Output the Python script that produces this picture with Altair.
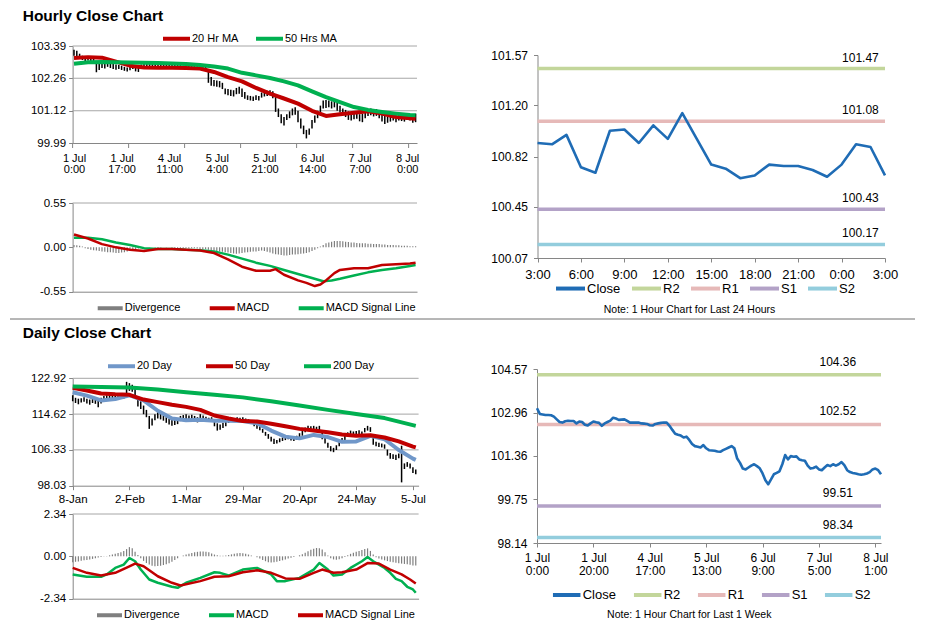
import json
import altair as alt
import pandas as pd

FONT = "Liberation Sans"
W, H = 912, 622
AXIS_GREY = "#868686"
GRID_GREY = "#A6A6A6"
RED = "#C00000"
GREEN = "#00B050"
BLUE_MA = "#7097C9"
DIV_GREY = "#7F7F7F"
CLOSE_BLUE = "#1F6CB5"
LEVEL_COLORS = ["#C3D69B", "#E6B9B8", "#B3A2C7", "#93CDDD"]

TITLES = ["Hourly Close Chart", "Daily Close Chart"]
NOTES = ["Note: 1 Hour Chart for Last 24 Hours", "Note: 1 Hour Chart for Last 1 Week"]

# ---------------- Hourly close chart (top left) ----------------
A_HIGH = [103.26, 103.22, 103.12, 103.05, 103.00, 103.02, 102.98, 102.95, 102.82, 102.78,
          102.80, 102.78, 102.82, 102.80, 102.76, 102.74, 102.72, 102.70, 102.66, 102.64,
          102.66, 102.70, 102.72, 102.70, 102.74, 102.78, 102.80, 102.78, 102.80, 102.82,
          102.80, 102.78, 102.76, 102.78, 102.80, 102.78, 102.76, 102.74, 102.72, 102.70,
          102.68, 102.70, 102.72, 102.70, 102.68, 102.70, 102.68, 102.66, 102.55, 102.30,
          102.20, 102.18, 102.16, 102.10, 101.90, 101.88, 101.86, 101.84, 101.92, 101.96,
          101.90, 101.78, 101.66, 101.64, 101.62, 101.66, 101.64, 101.76, 101.80, 101.82,
          101.84, 101.80, 101.60, 101.20, 101.00, 100.90, 101.00, 101.10, 101.20, 101.24,
          101.12, 100.85, 100.60, 100.45, 100.50, 100.80, 100.95, 101.12, 101.30, 101.48,
          101.50, 101.48, 101.45, 101.50, 101.40, 101.30, 101.20, 101.15, 101.10, 101.05,
          101.08, 101.10, 101.00, 101.02, 101.12, 101.18, 101.20, 101.16, 101.18, 101.12,
          101.02, 100.95, 100.92, 100.96, 100.98, 100.95, 101.00, 100.98, 100.96, 101.02,
          101.00, 100.98, 101.02]
A_LOW = [103.05, 103.02, 102.95, 102.90, 102.86, 102.88, 102.84, 102.80, 102.47, 102.55,
         102.62, 102.60, 102.66, 102.62, 102.58, 102.56, 102.58, 102.55, 102.52, 102.50,
         102.54, 102.58, 102.50, 102.48, 102.60, 102.64, 102.66, 102.64, 102.66, 102.68,
         102.66, 102.64, 102.62, 102.64, 102.66, 102.64, 102.62, 102.60, 102.58, 102.58,
         102.56, 102.58, 102.60, 102.58, 102.56, 102.58, 102.56, 102.52, 102.10, 102.00,
         101.98, 101.96, 101.94, 101.88, 101.70, 101.66, 101.64, 101.62, 101.70, 101.72,
         101.60, 101.54, 101.50, 101.48, 101.46, 101.50, 101.48, 101.58, 101.62, 101.64,
         101.66, 101.56, 101.08, 100.90, 100.68, 100.60, 100.80, 100.86, 100.96, 100.98,
         100.72, 100.50, 100.30, 100.15, 100.28, 100.50, 100.70, 100.86, 101.05, 101.20,
         101.22, 101.24, 101.20, 101.24, 101.12, 101.06, 100.98, 100.90, 100.80, 100.78,
         100.82, 100.84, 100.75, 100.72, 100.86, 100.94, 100.96, 100.92, 100.94, 100.86,
         100.74, 100.66, 100.70, 100.74, 100.78, 100.72, 100.78, 100.76, 100.74, 100.80,
         100.78, 100.70, 100.72]
A_MA_X = [0, 5, 10, 15, 20, 25, 30, 35, 40, 45, 50, 55, 60, 65, 70, 75, 80, 85, 90, 95,
          100, 105, 110, 115, 120, 122]
A_MA20 = [102.97, 103.00, 102.98, 102.84, 102.70, 102.64, 102.63, 102.63, 102.62, 102.60,
          102.48, 102.30, 102.15, 101.92, 101.72, 101.55, 101.37, 101.12, 100.94, 101.00,
          101.05, 101.10, 101.02, 100.90, 100.86, 100.84]
A_MA50 = [102.77, 102.82, 102.83, 102.82, 102.81, 102.80, 102.79, 102.78, 102.76, 102.72,
          102.67, 102.60, 102.45, 102.36, 102.27, 102.15, 102.01, 101.80, 101.60, 101.42,
          101.25, 101.15, 101.08, 101.02, 100.97, 100.96]
A_SERIES = ["20 Hr MA", "50 Hrs MA"]
A_YTICKS = [99.99, 101.12, 102.26, 103.39]
A_XLABELS = [["1 Jul", "0:00"], ["1 Jul", "17:00"], ["4 Jul", "11:00"], ["5 Jul", "4:00"],
             ["5 Jul", "21:00"], ["6 Jul", "14:00"], ["7 Jul", "7:00"], ["8 Jul", "0:00"]]
A_LABEL_STEP = 17
A_TICKS = [-0.5, 19.5, 39.5, 59.5, 79.5, 99.5, 119.5]

# ---------------- Hourly MACD (left, second) ----------------
B_DIV = [0.03, 0.025, 0.02, 0.01, -0.01, -0.02, -0.03, -0.035, -0.04, -0.045,
         -0.05, -0.055, -0.06, -0.06, -0.065, -0.07, -0.07, -0.065, -0.06, -0.05,
         -0.04, -0.03, -0.02, -0.015, -0.01, -0.005, 0.0, 0.005, 0.0, -0.005,
         -0.01, -0.005, 0.0, 0.005, 0.0, -0.005, -0.01, -0.01, -0.015, -0.01,
         -0.01, -0.015, -0.01, -0.01, -0.015, -0.02, -0.02, -0.025, -0.03, -0.035,
         -0.04, -0.045, -0.05, -0.055, -0.06, -0.065, -0.07, -0.075, -0.08, -0.075,
         -0.07, -0.065, -0.06, -0.055, -0.05, -0.05, -0.045, -0.04, -0.045, -0.055,
         -0.065, -0.075, -0.085, -0.09, -0.095, -0.1, -0.1, -0.095, -0.09, -0.09,
         -0.085, -0.08, -0.075, -0.07, -0.06, -0.045, -0.03, -0.01, 0.01, 0.03,
         0.05, 0.06, 0.07, 0.08, 0.08, 0.08, 0.075, 0.07, 0.065, 0.06,
         0.06, 0.055, 0.05, 0.05, 0.05, 0.045, 0.045, 0.04, 0.04, 0.04,
         0.035, 0.035, 0.03, 0.03, 0.03, 0.025, 0.025, 0.02, 0.02, 0.02,
         0.015, 0.015, 0.015]
B_MACD_X = [0, 5, 10, 15, 20, 25, 30, 35, 40, 45, 50, 55, 60, 65, 70, 72, 75, 80, 83, 86,
            88, 90, 93, 95, 100, 105, 110, 115, 120, 122]
B_MACD = [0.16, 0.11, 0.04, 0.0, -0.03, -0.045, -0.02, -0.02, -0.03, -0.04, -0.07, -0.15,
          -0.24, -0.29, -0.29, -0.27, -0.34, -0.41, -0.44, -0.48, -0.46, -0.41, -0.32, -0.28,
          -0.26, -0.26, -0.22, -0.21, -0.20, -0.19]
B_SIG_X = [0, 5, 10, 15, 20, 25, 30, 35, 40, 45, 50, 55, 60, 65, 70, 75, 80, 85, 89, 92,
           95, 100, 105, 110, 115, 120, 122]
B_SIG = [0.12, 0.12, 0.10, 0.06, 0.03, -0.01, -0.02, -0.02, -0.03, -0.035, -0.05, -0.09,
         -0.14, -0.19, -0.23, -0.28, -0.33, -0.38, -0.42, -0.41, -0.39, -0.35, -0.31, -0.28,
         -0.26, -0.23, -0.22]
B_SERIES = ["Divergence", "MACD", "MACD Signal Line"]
B_YTICKS = [-0.55, 0.0, 0.55]

# ---------------- Last 24 hours (top right) ----------------
C_CLOSE = [100.92, 100.91, 100.98, 100.74, 100.70, 101.01, 101.02, 100.92, 101.05, 100.95,
           101.14, 100.95, 100.76, 100.73, 100.66, 100.68, 100.76, 100.75, 100.75, 100.72,
           100.67, 100.76, 100.91, 100.89, 100.68]
C_XLABELS = ["3:00", "6:00", "9:00", "12:00", "15:00", "18:00", "21:00", "0:00", "3:00"]
C_LEVEL_NAMES = ["R2", "R1", "S1", "S2"]
C_LEVELS = [101.47, 101.08, 100.43, 100.17]
C_YTICKS = [100.07, 100.45, 100.82, 101.20, 101.57]

# ---------------- Daily close chart (bottom left) ----------------
D_HIGH = [119.0, 118.4, 118.2, 118.3, 118.5, 118.2, 118.0, 118.3, 118.1, 117.9,
          118.4, 118.8, 119.0, 119.2, 119.1, 119.3, 119.0, 119.2, 119.4, 122.1,
          121.8, 121.4, 120.8, 118.5, 117.6, 116.6, 115.6, 114.2, 113.6, 114.6,
          115.1, 114.8, 114.3, 113.9, 113.5, 113.4, 113.6, 113.5, 114.2, 114.4,
          114.6, 114.3, 114.5, 114.2, 113.9, 114.6, 114.3, 114.0, 113.8, 113.9,
          113.1, 112.5, 112.2, 112.6, 113.0, 113.5, 113.8, 113.6, 113.9, 113.8,
          113.9, 113.6, 113.4, 113.2, 112.6, 112.3, 111.8, 111.2, 110.5, 110.0,
          109.4, 108.9, 108.6, 109.0, 109.2, 109.4, 109.6, 109.5, 109.3, 109.6,
          110.2, 110.8, 111.5, 111.9, 111.8, 111.9, 111.7, 111.9, 110.8, 109.6,
          108.0, 107.2, 106.8, 107.4, 108.3, 109.1, 109.6, 110.4, 110.8, 110.6,
          110.7, 110.9, 110.6, 111.4, 111.9, 111.6, 109.8, 108.2, 108.0, 107.8,
          107.6, 106.4, 105.6, 105.3, 105.2, 105.5, 107.3, 103.2, 103.5, 103.2,
          102.3, 101.8]
D_LOW = [117.6, 117.2, 116.9, 117.3, 117.5, 117.1, 116.8, 117.2, 117.0, 116.2,
         117.1, 117.6, 117.9, 118.0, 117.9, 118.2, 118.0, 118.1, 118.2, 119.2,
         120.0, 119.8, 118.6, 116.4, 115.8, 114.6, 113.9, 111.2, 112.0, 113.2,
         113.6, 113.4, 113.1, 112.6, 112.2, 111.9, 112.1, 112.3, 113.0, 113.2,
         113.4, 113.1, 113.3, 113.0, 112.7, 113.5, 113.0, 112.8, 112.9, 113.0,
         111.8, 110.8, 111.0, 111.4, 111.8, 112.6, 112.9, 112.8, 113.0, 112.8,
         112.9, 112.8, 112.6, 112.4, 111.8, 111.2, 110.9, 110.3, 109.6, 108.9,
         108.3, 107.7, 107.8, 108.1, 108.4, 108.6, 108.8, 108.5, 108.4, 108.7,
         109.3, 109.6, 110.4, 110.9, 110.8, 110.9, 110.8, 110.6, 108.8, 107.8,
         106.8, 106.0, 105.8, 106.3, 107.2, 108.3, 108.6, 109.5, 109.7, 109.6,
         109.8, 109.9, 109.7, 110.4, 110.8, 110.5, 107.5, 107.2, 107.0, 106.9,
         106.6, 105.0, 104.3, 104.2, 104.0, 104.4, 98.8, 101.9, 102.4, 102.0,
         101.0, 100.7]
D_MA_X = [0, 5, 10, 15, 20, 25, 30, 35, 40, 45, 50, 55, 60, 65, 70, 75, 80, 85, 90, 95,
          100, 105, 110, 115, 120, 121]
D_MA20 = [119.7, 118.9, 117.8, 118.1, 119.0, 117.8, 115.4, 113.6, 113.2, 113.3, 113.1,
          113.1, 113.0, 112.5, 110.8, 109.4, 109.0, 109.8, 109.3, 108.2, 108.3, 109.6,
          108.8, 106.3, 104.3, 104.0]
D_MA50 = [120.7, 120.1, 119.4, 119.2, 119.1, 118.0, 117.4, 116.8, 116.3, 115.6, 114.3,
          113.6, 113.0, 112.9, 112.4, 111.8, 111.2, 110.8, 110.4, 109.9, 109.6, 109.7,
          109.2, 108.3, 107.1, 106.9]
D_MA200_X = [0, 10, 20, 30, 40, 50, 60, 70, 80, 90, 100, 110, 121]
D_MA200 = [121.0, 120.9, 120.8, 120.3, 119.7, 119.1, 118.5, 117.6, 116.6, 115.6, 114.65,
           113.7, 111.9]
D_SERIES = ["20 Day", "50 Day", "200 Day"]
D_YTICKS = [98.03, 106.33, 114.62, 122.92]
D_XLABELS = ["8-Jan", "2-Feb", "1-Mar", "29-Mar", "20-Apr", "24-May", "5-Jul"]

# ---------------- Daily MACD (bottom left, second) ----------------
E_DIV = [-0.33, -0.30, -0.28, -0.25, -0.22, -0.20, -0.17, -0.14, -0.10, -0.07,
         -0.04, -0.01, 0.02, 0.06, 0.10, 0.14, 0.18, 0.22, 0.30, 0.40,
         0.51, 0.45, 0.25, 0.08, -0.10, -0.25, -0.37, -0.45, -0.52, -0.55,
         -0.54, -0.52, -0.48, -0.44, -0.38, -0.30, -0.20, -0.10, 0.0, 0.05,
         0.10, 0.14, 0.18, 0.22, 0.25, 0.27, 0.27, 0.26, 0.22, 0.16,
         0.10, 0.06, 0.04, 0.03, 0.05, 0.08, 0.11, 0.14, 0.17, 0.18,
         0.17, 0.14, 0.10, 0.05, 0.01, -0.05, -0.12, -0.20, -0.27, -0.32,
         -0.34, -0.33, -0.30, -0.26, -0.22, -0.17, -0.12, -0.08, -0.04, 0.0,
         0.06, 0.12, 0.20, 0.28, 0.36, 0.42, 0.46, 0.45, 0.38, 0.22,
         0.05, -0.10, -0.17, -0.19, -0.16, -0.10, -0.03, 0.06, 0.14, 0.20,
         0.25, 0.30, 0.35, 0.40, 0.44, 0.30, 0.10, -0.05, -0.12, -0.18,
         -0.22, -0.26, -0.30, -0.33, -0.36, -0.38, -0.40, -0.42, -0.44, -0.47,
         -0.50, -0.51]
E_MACD_X = [0, 5, 10, 12, 15, 18, 20, 22, 24, 27, 30, 35, 37, 40, 45, 50, 52, 55, 60, 65,
            70, 72, 75, 80, 85, 87, 90, 92, 95, 98, 102, 104, 106, 108, 110, 112, 114, 116,
            118, 120, 121]
E_MACD = [-1.0, -1.13, -1.13, -1.0, -0.64, -0.46, -0.09, -0.27, -0.73, -1.28, -1.46, -1.68,
          -1.74, -1.46, -1.19, -0.88, -0.91, -1.06, -0.73, -0.64, -1.0, -1.37, -1.37, -1.19,
          -0.73, -0.37, -0.73, -1.06, -1.0, -0.64, -0.27, -0.04, -0.27, -0.46, -0.64, -0.91,
          -1.24, -1.37, -1.68, -1.83, -2.01]
E_SIG_X = [0, 5, 10, 15, 20, 22, 25, 30, 35, 38, 45, 50, 55, 60, 65, 70, 75, 80, 85, 88,
           92, 95, 100, 104, 108, 112, 116, 119, 121]
E_SIG = [-0.64, -0.91, -1.06, -0.91, -0.55, -0.40, -0.55, -1.1, -1.46, -1.61, -1.37, -1.13,
         -1.1, -0.88, -0.77, -0.91, -1.22, -1.24, -0.91, -0.73, -0.91, -0.88, -0.73, -0.37,
         -0.40, -0.73, -1.0, -1.28, -1.5]
E_SERIES = ["Divergence", "MACD", "MACD Signal Line"]
E_YTICKS = [-2.34, 0.0, 2.34]

# ---------------- Last 1 week (bottom right) ----------------
F_CLOSE = [103.12, 102.91, 102.89, 102.87, 102.87, 102.86, 102.81, 102.71, 102.61, 102.59,
           102.64, 102.66, 102.65, 102.65, 102.56, 102.63, 102.61, 102.51, 102.48, 102.56,
           102.63, 102.60, 102.58, 102.47, 102.56, 102.61, 102.66, 102.77, 102.74, 102.69,
           102.70, 102.71, 102.65, 102.59, 102.59, 102.59, 102.59, 102.56, 102.55, 102.54,
           102.49, 102.48, 102.54, 102.56, 102.58, 102.59, 102.59, 102.47, 102.32, 102.18,
           102.14, 102.11, 102.04, 102.07, 101.95, 101.80, 101.72, 101.70, 101.67, 101.76,
           101.64, 101.57, 101.56, 101.55, 101.52, 101.51, 101.57, 101.62, 101.67, 101.72,
           101.64, 101.26, 101.10, 100.89, 100.86, 100.93, 101.00, 101.05, 100.98, 100.90,
           100.71, 100.46, 100.31, 100.49, 100.68, 100.73, 100.79, 101.05, 101.39, 101.23,
           101.35, 101.33, 101.34, 101.23, 101.20, 101.18, 101.00, 100.89, 100.91, 100.96,
           100.86, 100.83, 100.93, 101.02, 100.98, 101.05, 101.00, 101.05, 101.13, 101.02,
           100.83, 100.76, 100.73, 100.71, 100.68, 100.66, 100.68, 100.71, 100.76, 100.86,
           100.89, 100.83, 100.68]
F_XLABELS = [["1 Jul", "0:00"], ["1 Jul", "20:00"], ["4 Jul", "17:00"], ["5 Jul", "13:00"],
             ["6 Jul", "9:00"], ["7 Jul", "5:00"], ["8 Jul", "1:00"]]
F_LEVEL_NAMES = ["R2", "R1", "S1", "S2"]
F_LEVELS = [104.36, 102.52, 99.51, 98.34]
F_YTICKS = [98.14, 99.75, 101.36, 102.96, 104.57]

LEVEL_SERIES = ["Close", "R2", "R1", "S1", "S2"]


# ---------------- helpers ----------------
def sc(domain, rng):
    return alt.Scale(domain=domain, range=rng, nice=False, zero=False)


def xf(field, scale, axis):
    return alt.X(field, type="quantitative", scale=scale, axis=axis)


def yf(field, scale, axis):
    return alt.Y(field, type="quantitative", scale=scale, axis=axis)


def xd(value, scale, axis):
    return alt.XDatum(value, type="quantitative", scale=scale, axis=axis)


def yd(value, scale, axis):
    return alt.YDatum(value, type="quantitative", scale=scale, axis=axis)


MINUS_FIX = "replace(datum.label, '\u2212', '-')"


def y_axis(axis_x, values, font, pad):
    return alt.Axis(orient="left", offset=-axis_x, values=values, format=".2f",
                    labelExpr=MINUS_FIX, title=None, grid=False,
                    domainColor=AXIS_GREY, tickColor=AXIS_GREY, tickSize=4,
                    labelFont=FONT, labelFontSize=font, labelPadding=pad,
                    labelColor="#000000", labelFlush=False, labelOverlap=False)


def x_axis(axis_y, values, expr, font, pad, ticks=True, line_h=12):
    return alt.Axis(orient="bottom", offset=axis_y - H, values=values, labelExpr=expr,
                    title=None, grid=False, ticks=ticks, tickSize=4,
                    domainColor=AXIS_GREY, tickColor=AXIS_GREY,
                    labelFont=FONT, labelFontSize=font, labelPadding=pad,
                    labelBaseline="top", labelLineHeight=line_h,
                    labelColor="#000000", labelFlush=False, labelOverlap=False)


def bare_x_axis(axis_y):
    return alt.Axis(orient="bottom", offset=axis_y - H, labels=False, ticks=False,
                    title=None, grid=False, domainColor=AXIS_GREY)


def legend(x, y, font, colpad, cols, size, lab_off=0):
    return alt.Legend(orient="none", legendX=x, legendY=y, direction="horizontal",
                      columns=cols, symbolType="stroke", symbolSize=size,
                      symbolStrokeWidth=4, labelFont=FONT, labelFontSize=font,
                      labelColor="#000000", labelOffset=lab_off, columnPadding=colpad,
                      rowPadding=0, padding=0, title=None)


def series_df(pairs):
    frames = []
    for name, xs, ys in pairs:
        frames.append(pd.DataFrame({"i": xs, "v": ys, "series": name}))
    return pd.concat(frames, ignore_index=True)


def grid_layer(values, x0, x1, xs, xa, ys, ya):
    return alt.Chart(pd.DataFrame({"v": values})).mark_rule(
        color=GRID_GREY, strokeWidth=1).encode(
        x=xd(x0, xs, xa), x2=alt.X2Datum(x1), y=yf("v", ys, ya))


# ---------------- panel A ----------------
xA = sc([-0.5, 122.5], [64.6, 409.0])
yA = sc([99.99, 103.39], [135, 38])
axAx = x_axis(135, list(range(0, 120, A_LABEL_STEP)),
              f"{json.dumps(A_XLABELS)}[round(datum.value/{A_LABEL_STEP})]", 11, 9,
              ticks=False, line_h=11.5)
axAy = y_axis(64.6, A_YTICKS, 11.5, 3)

A_bars = pd.DataFrame({"i": list(range(len(A_HIGH))), "hi": A_HIGH, "lo": A_LOW[:len(A_HIGH)]})
A_lines = series_df([(A_SERIES[0], A_MA_X, A_MA20), (A_SERIES[1], A_MA_X, A_MA50)])

panelA = alt.layer(
    grid_layer(A_YTICKS[1:], -0.5, 122.5, xA, axAx, yA, axAy),
    alt.Chart(pd.DataFrame({"t": A_TICKS})).mark_rule(color=AXIS_GREY, y2Offset=5).encode(
        x=xf("t", xA, axAx), y=yd(A_YTICKS[0], yA, axAy), y2=alt.Y2Datum(A_YTICKS[0])),
    alt.Chart(A_bars).mark_rule(color="#000000", strokeWidth=1.5).encode(
        x=xf("i", xA, axAx), y=yf("lo", yA, axAy), y2=alt.Y2("hi")),
    alt.Chart(A_lines).mark_line(strokeWidth=4, strokeJoin="round").encode(
        x=xf("i", xA, axAx), y=yf("v", yA, axAy),
        color=alt.Color("series:N", scale=alt.Scale(domain=A_SERIES, range=[RED, GREEN]),
                        legend=legend(153, 15, 11, 9, 2, 729)),
        order=alt.Order("i:Q")),
)

# ---------------- panel B ----------------
yB = sc([-0.55, 0.55], [283.7, 195])
axBx = bare_x_axis(283.7)
axBy = y_axis(64.6, B_YTICKS, 11.5, 3)
B_colors = alt.Scale(domain=B_SERIES, range=[DIV_GREY, RED, GREEN])
B_leg = legend(87.7, 285.5, 11, 21, 3, 625)
B_div = pd.DataFrame({"i": list(range(len(B_DIV))), "v": B_DIV, "series": B_SERIES[0]})
B_lines = series_df([(B_SERIES[2], B_SIG_X, B_SIG), (B_SERIES[1], B_MACD_X, B_MACD)])

panelB = alt.layer(
    grid_layer([B_YTICKS[-1]], -0.5, 122.5, xA, axBx, yB, axBy),
    alt.Chart(B_div).mark_rule(strokeWidth=1.2).encode(
        x=xf("i", xA, axBx), y=yf("v", yB, axBy), y2=alt.Y2Datum(0),
        color=alt.Color("series:N", scale=B_colors, legend=B_leg)),
    alt.Chart(B_lines).mark_line(strokeWidth=2.5, strokeJoin="round").encode(
        x=xf("i", xA, axBx), y=yf("v", yB, axBy),
        color=alt.Color("series:N", scale=B_colors, legend=B_leg),
        order=alt.Order("i:Q")),
)


# ---------------- level panels (C and F) ----------------
def level_panel(close, names, levels, xdom, xr, ydom, yr, ax_x, ax_y, label_x, label_dy,
                leg, note, note_x, note_dy):
    xs = sc(xdom, xr)
    ys = sc(ydom, yr)
    colors = alt.Scale(domain=LEVEL_SERIES, range=[CLOSE_BLUE] + LEVEL_COLORS)
    lev = pd.DataFrame({"v": levels, "series": names})
    cl = pd.DataFrame({"i": list(range(len(close))), "v": close, "series": LEVEL_SERIES[0]})
    return alt.layer(
        alt.Chart(lev).mark_rule(strokeWidth=3.5).encode(
            x=xd(xdom[0], xs, ax_x), x2=alt.X2Datum(xdom[1]), y=yf("v", ys, ax_y),
            color=alt.Color("series:N", scale=colors, legend=leg)),
        alt.Chart(lev).mark_text(font=FONT, fontSize=12, color="#000000", dy=label_dy).encode(
            x=xd(label_x, xs, ax_x), y=yf("v", ys, ax_y),
            text=alt.Text("v:Q", format=".2f")),
        alt.Chart(cl).mark_line(strokeWidth=2.6, strokeJoin="round").encode(
            x=xf("i", xs, ax_x), y=yf("v", ys, ax_y),
            color=alt.Color("series:N", scale=colors, legend=leg)),
        alt.Chart(pd.DataFrame({"t": [note]})).mark_text(
            font=FONT, fontSize=10.5, color="#000000", dy=note_dy, baseline="middle").encode(
            x=xd(note_x, xs, ax_x), y=yd(ydom[0], ys, ax_y), text="t:N"),
    )


axCx = x_axis(250, list(range(0, 25, 3)), f"{json.dumps(C_XLABELS)}[round(datum.value/3)]",
              13, 6)
axCy = y_axis(529.5, C_YTICKS, 12, 6)
panelC = level_panel(C_CLOSE, C_LEVEL_NAMES, C_LEVELS, [0, 24], [529.5, 877],
                     [100.07, 101.57], [250, 47], axCx, axCy, 22.3, -11,
                     legend(546, 263.8, 13, 3, 5, 841), NOTES[0], 10.5, 52)

axFx = x_axis(535, list(range(0, 121, 20)), f"{json.dumps(F_XLABELS)}[round(datum.value/20)]",
              12, 5, line_h=13)
axFy = y_axis(529, F_YTICKS, 12, 6)
panelF = level_panel(F_CLOSE, F_LEVEL_NAMES, F_LEVELS, [0, 122], [529, 873],
                     [98.14, 104.57], [535, 361], axFx, axFy, 106.7, -13,
                     legend(542.7, 571, 13, 9, 5, 756), NOTES[1], 54, 72)

# ---------------- panel D ----------------
xD = sc([0, 122], [64.7, 410.6])
yD = sc([98.03, 122.92], [477.7, 370.3])
axDx = x_axis(477.7, list(range(0, 121, 20)), f"{json.dumps(D_XLABELS)}[round(datum.value/20)]",
              11.5, 4)
axDy = y_axis(64.7, D_YTICKS, 11.5, 3)
D_bars = pd.DataFrame({"i": list(range(len(D_HIGH))), "hi": D_HIGH, "lo": D_LOW[:len(D_HIGH)]})
D_lines = series_df([(D_SERIES[0], D_MA_X, D_MA20), (D_SERIES[1], D_MA_X, D_MA50),
                     (D_SERIES[2], D_MA200_X, D_MA200)])
panelD = alt.layer(
    grid_layer(D_YTICKS[1:], 0, 122, xD, axDx, yD, axDy),
    alt.Chart(D_bars).mark_rule(color="#000000", strokeWidth=1.5).encode(
        x=xf("i", xD, axDx), y=yf("lo", yD, axDy), y2=alt.Y2("hi")),
    alt.Chart(D_lines).mark_line(strokeWidth=4, strokeJoin="round").encode(
        x=xf("i", xD, axDx), y=yf("v", yD, axDy),
        color=alt.Color("series:N",
                        scale=alt.Scale(domain=D_SERIES, range=[BLUE_MA, RED, GREEN]),
                        legend=legend(98, 342.5, 11, 26, 3, 729)),
        order=alt.Order("i:Q")),
)

# ---------------- panel E ----------------
yE = sc([-2.34, 2.34], [590.7, 506])
axEx = bare_x_axis(590.7)
axEy = y_axis(64.7, E_YTICKS, 11.5, 3)
E_colors = alt.Scale(domain=E_SERIES, range=[DIV_GREY, GREEN, RED])
E_leg = legend(87, 592.5, 11, 21, 3, 625)
E_div = pd.DataFrame({"i": list(range(len(E_DIV))), "v": E_DIV, "series": E_SERIES[0]})
E_lines = series_df([(E_SERIES[1], E_MACD_X, E_MACD), (E_SERIES[2], E_SIG_X, E_SIG)])
panelE = alt.layer(
    grid_layer([E_YTICKS[-1]], 0, 122, xD, axEx, yE, axEy),
    alt.Chart(E_div).mark_rule(strokeWidth=1.2).encode(
        x=xf("i", xD, axEx), y=yf("v", yE, axEy), y2=alt.Y2Datum(0),
        color=alt.Color("series:N", scale=E_colors, legend=E_leg)),
    alt.Chart(E_lines).mark_line(strokeWidth=2.5, strokeJoin="round").encode(
        x=xf("i", xD, axEx), y=yf("v", yE, axEy),
        color=alt.Color("series:N", scale=E_colors, legend=E_leg),
        order=alt.Order("i:Q")),
)


# ---------------- titles and separator ----------------
def title_layer(text, x, y):
    return alt.Chart(pd.DataFrame({"t": [text]})).mark_text(
        align="left", baseline="alphabetic", font=FONT, fontSize=15.5, fontWeight="bold",
        color="#000000").encode(x=alt.value(x), y=alt.value(y), text="t:N")


separator = alt.Chart(pd.DataFrame({"k": [0]})).mark_rule(
    color="#6E6E6E", strokeWidth=1).encode(x=alt.value(2), x2=alt.value(907), y=alt.value(311))

chart = alt.layer(
    panelA, panelB, panelC, panelD, panelE, panelF,
    title_layer(TITLES[0], 14.7, 12.8), title_layer(TITLES[1], 14.7, 330.3), separator,
).resolve_scale(
    x="independent", y="independent", color="independent"
).properties(
    width=W, height=H, padding=0, background="white",
    autosize=alt.AutoSizeParams(type="none"),
).configure_view(stroke=None)

chart.save("out.html", embed_options={"renderer": "svg", "actions": False})
